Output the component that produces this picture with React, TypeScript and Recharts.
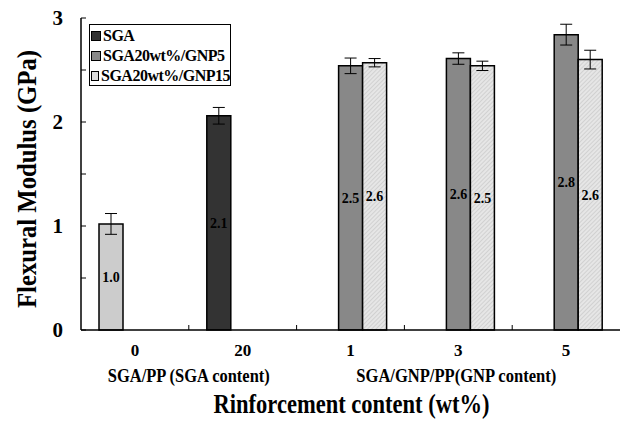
import React from 'react';
import {
  BarChart, Bar, XAxis, YAxis, Cell, ErrorBar, LabelList, Legend,
} from 'recharts';

// categories along the x axis
const categories = ['0', '20', '1', '3', '5'];
// PP / SGA-only bars (left slot)
const baseValues = [1.02, 2.06, null, null, null];
const baseErrors = [0.1, 0.08, null, null, null];
// SGA20wt%/GNP5
const gnp5Values = [null, null, 2.54, 2.61, 2.84];
const gnp5Errors = [null, null, 0.075, 0.055, 0.1];
// SGA20wt%/GNP15
const gnp15Values = [null, null, 2.57, 2.54, 2.6];
const gnp15Errors = [null, null, 0.04, 0.045, 0.09];

const yTicks = [0, 0.5, 1, 1.5, 2, 2.5, 3];
const groupLabels = ['SGA/PP (SGA content)', 'SGA/GNP/PP(GNP  content)'];
const legendNames = ['SGA', 'SGA20wt%/GNP5', 'SGA20wt%/GNP15'];

const FONT = '"Liberation Serif", "Times New Roman", serif';
const BASE_FILLS = ['#cccccc', '#333333', '#cccccc', '#cccccc', '#cccccc'];
const GNP5_FILL = '#888888';
const LEGEND_FILLS = ['#333333', '#888888', '#dddddd'];

const data = categories.map((cat, i) => ({
  cat,
  base: baseValues[i],
  baseErr: baseErrors[i],
  gnp5: gnp5Values[i],
  gnp5Err: gnp5Errors[i],
  gnp15: gnp15Values[i],
  gnp15Err: gnp15Errors[i],
}));

const fmt = (v: unknown) => (v == null ? '' : Number(v).toFixed(1));

// category tick: number label, small inward tick at the band boundary, group captions
function XTick({ x, y, payload, index }: any) {
  const half = payload.offset || 0;
  const last = index === categories.length - 1;
  return (
    <g>
      {!last && <line x1={x + half} y1={y} x2={x + half} y2={y - 5} stroke="#000" strokeWidth={1} />}
      <text x={x} y={y + 26} textAnchor="middle" fontSize={17} fontWeight="bold" fontFamily={FONT} fill="#000">
        {payload.value}
      </text>
      {index === 0 && (
        <text
          x={x + half} y={y + 52} textAnchor="middle" fontSize={18} fontWeight="bold" fontFamily={FONT} fill="#000"
          textLength={162} lengthAdjust="spacingAndGlyphs"
        >
          {groupLabels[0]}
        </text>
      )}
      {index === 3 && (
        <text
          x={x - 2} y={y + 52} textAnchor="middle" fontSize={18} fontWeight="bold" fontFamily={FONT} fill="#000"
          textLength={200} lengthAdjust="spacingAndGlyphs"
        >
          {groupLabels[1]}
        </text>
      )}
    </g>
  );
}

function YTick({ x, y, payload }: any) {
  if (payload.value % 1 !== 0) return null;
  return (
    <text x={x - 23} y={y + 7} textAnchor="end" fontSize={21} fontWeight="bold" fontFamily={FONT} fill="#000">
      {payload.value}
    </text>
  );
}

function LegendBox() {
  return (
    <div
      style={{
        border: '1.5px solid #000', background: '#fff', width: 142, height: 62, boxSizing: 'border-box',
        fontFamily: FONT, fontWeight: 'bold', fontSize: 16, lineHeight: '20px', padding: '1px 0 0 1px',
      }}
    >
      {legendNames.map((n, i) => (
        <div key={n} style={{ display: 'flex', alignItems: 'center', whiteSpace: 'nowrap' }}>
          <span
            style={{
              display: 'inline-block', width: 8, height: 8, border: '1px solid #000',
              background: LEGEND_FILLS[i], marginRight: 2,
            }}
          />
          <span style={{ letterSpacing: -0.5 }}>{n}</span>
        </div>
      ))}
    </div>
  );
}

export default function App() {
  return (
    <div style={{ width: 625, height: 422, background: '#fff' }}>
      <style>{'body{margin:0}'}</style>
      <BarChart
        width={625}
        height={422}
        data={data}
        margin={{ top: 18, right: 5, bottom: 0, left: 0 }}
        barSize={24}
        barGap={0}
      >
        <defs>
          <pattern id="hatch" width="3" height="3" patternUnits="userSpaceOnUse" patternTransform="rotate(45)">
            <rect width="3" height="3" fill="#e6e6e6" />
            <line x1="0" y1="0" x2="0" y2="3" stroke="#bdbdbd" strokeWidth="1" />
          </pattern>
        </defs>
        <XAxis
          dataKey="cat"
          height={92}
          tickLine={false}
          tickSize={0}
          tickMargin={0}
          axisLine={{ stroke: '#000', strokeWidth: 1.5 }}
          tick={<XTick />}
          interval={0}
          label={{
            content: (p: any) => {
              const vb = p.viewBox || {};
              return (
                <text
                  x={vb.x + vb.width / 2 + 1} y={vb.y + 83} textAnchor="middle" fontSize={27} fontWeight="bold"
                  fontFamily={FONT} fill="#000" textLength={276} lengthAdjust="spacingAndGlyphs"
                >
                  Rinforcement content (wt%)
                </text>
              );
            },
          }}
        />
        <XAxis xAxisId="top" orientation="top" height={0} tick={false} tickLine={false} axisLine={{ stroke: '#000', strokeWidth: 1.5 }} />
        <YAxis
          domain={[0, 3]}
          ticks={yTicks}
          width={81}
          tickSize={-5}
          tickMargin={0}
          tickLine={{ stroke: '#000' }}
          axisLine={{ stroke: '#000', strokeWidth: 1.5 }}
          tick={<YTick />}
          label={{
            content: (p: any) => {
              const vb = p.viewBox || {};
              const cx = 26;
              const cy = vb.y + vb.height / 2 + 5;
              return (
                <text
                  x={cx} y={cy} transform={`rotate(-90 ${cx} ${cy})`} textAnchor="middle" dominantBaseline="central"
                  fontSize={28} fontWeight="bold" fontFamily={FONT} fill="#000"
                  textLength={258} lengthAdjust="spacingAndGlyphs"
                >
                  Flexural Modulus (GPa)
                </text>
              );
            },
          }}
        />
        <YAxis yAxisId="right" orientation="right" width={0} tick={false} tickLine={false} axisLine={{ stroke: '#000', strokeWidth: 1.5 }} />
        <Legend
          layout="vertical"
          align="center"
          verticalAlign="middle"
          wrapperStyle={{ left: 89, top: 24, width: 142 }}
          content={() => <LegendBox />}
        />
        <Bar dataKey="base" name="SGA" stroke="#000" strokeWidth={1.5} isAnimationActive={false}>
          {categories.map((c, i) => (
            <Cell key={c} fill={BASE_FILLS[i]} />
          ))}
          <ErrorBar dataKey="baseErr" width={6} stroke="#000" strokeWidth={1} />
          <LabelList dataKey="base" position="center" formatter={fmt} fontSize={14} fontWeight="bold" fontFamily={FONT} fill="#000" />
        </Bar>
        <Bar dataKey="gnp5" name="SGA20wt%/GNP5" fill={GNP5_FILL} stroke="#000" strokeWidth={1.5} isAnimationActive={false}>
          <ErrorBar dataKey="gnp5Err" width={6} stroke="#000" strokeWidth={1} />
          <LabelList dataKey="gnp5" position="center" formatter={fmt} fontSize={14} fontWeight="bold" fontFamily={FONT} fill="#000" />
        </Bar>
        <Bar dataKey="gnp15" name="SGA20wt%/GNP15" fill="url(#hatch)" stroke="#000" strokeWidth={1.5} isAnimationActive={false}>
          <ErrorBar dataKey="gnp15Err" width={6} stroke="#000" strokeWidth={1} />
          <LabelList dataKey="gnp15" position="center" formatter={fmt} fontSize={14} fontWeight="bold" fontFamily={FONT} fill="#000" />
        </Bar>
      </BarChart>
    </div>
  );
}
